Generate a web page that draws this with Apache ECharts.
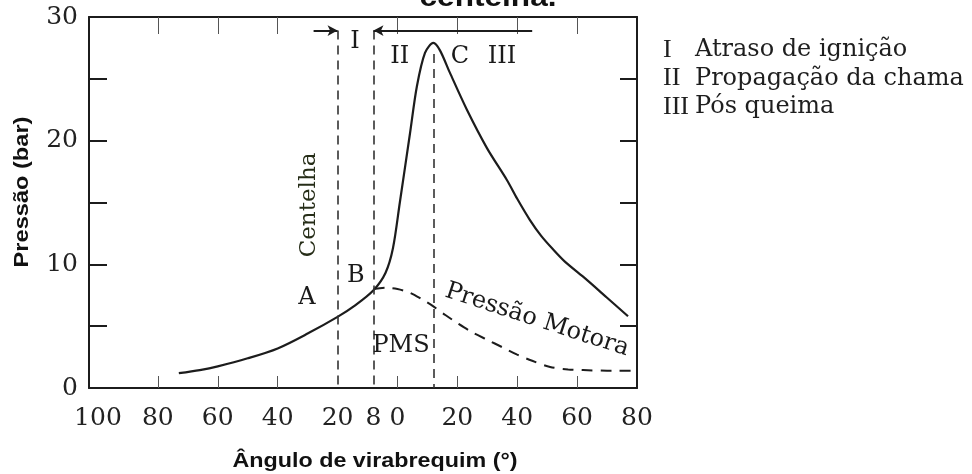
<!DOCTYPE html>
<html>
<head>
<meta charset="utf-8">
<script src="https://cdn.jsdelivr.net/npm/echarts@6/dist/echarts.min.js"></script>
<style>
html,body{margin:0;padding:0;background:#fff;}
#chart{width:972px;height:474px;}
</style>
</head>
<body>
<div id="chart"></div>
<script>
// ---- data ----
const firingAngle    = [-73, -66, -60, -50, -40, -30, -20, -14, -8, -4, -1.5, 0.8, 4.2, 6.5, 9.2, 12, 14.2, 17.5, 23.2, 29.9, 36.6, 40, 44.2, 48, 52, 56, 62, 70, 77];
const firingPressure = [1.2, 1.45, 1.75, 2.4, 3.2, 4.4, 5.75, 6.7, 7.9, 9.3, 11.3, 15.0, 20.6, 24.4, 27.1, 27.9, 27.3, 25.5, 22.5, 19.4, 16.8, 15.3, 13.6, 12.3, 11.2, 10.2, 9.0, 7.3, 5.8];

const motorAngle     = [-8, -4, 0, 4.2, 8, 12, 16, 20, 25, 30, 35, 40, 45, 51, 57, 62, 70, 80];
const motorPressure  = [8.0, 8.1, 8.0, 7.7, 7.2, 6.6, 5.9, 5.25, 4.5, 3.9, 3.3, 2.7, 2.2, 1.7, 1.5, 1.45, 1.4, 1.4];

const eventAngles    = [-20, -8, 12];      // centelha, B, C (dashed verticals)
const eventTop       = [28.9, 28.9, 27];
const phaseLineLevel = 28.9;

const xLabelValues   = [-100, -80, -60, -40, -20, -8, 0, 20, 40, 60, 80];
const xTickValues    = [-80, -60, -40, 0, 20, 40, 60];
const yLabelValues   = [0, 10, 20, 30];

const annText  = ['A', 'B', 'PMS', 'I', 'II', 'C', 'III', 'Centelha', 'Pressão Motora'];
const annX     = [-30.2, -13.9, 1.2, -14.2, 0.8, 20.9, 34.9, -29.5, 46.6];
const annY     = [7.3, 9.05, 3.4, 28.0, 26.8, 26.8, 26.8, 14.8, 5.5];
const annRot   = [0, 0, 0, 0, 0, 0, 0, 90, -18];

const legendNumerals = ['I', 'II', 'III'];
const legendTexts    = ['Atraso de ignição', 'Propagação da chama', 'Pós queima'];

// ---- chart ----
const serif = 'DejaVu Serif';
const ink = '#1c1c1c';
const chart = echarts.init(document.getElementById('chart'));

const pairs = (xs, ys) => xs.map((x, i) => [x, ys[i]]);

const verticals = eventAngles.map((a, i) => [{coord: [a, eventTop[i]]}, {coord: [a, 0]}]);

const legendGraphics = [];
legendTexts.forEach((t, i) => {
  legendGraphics.push({type: 'text', left: 663, top: 37 + i * 28.5,
    style: {text: legendNumerals[i], font: '26px "Liberation Serif"', fill: '#1e1e1e'}});
  legendGraphics.push({type: 'text', left: 695, top: 38 + i * 28.5,
    style: {text: t, font: '24px "' + serif + '"', fill: '#1e1e1e'}});
});

chart.setOption({
  animation: false,
  backgroundColor: '#fff',
  grid: {left: 89, right: 335, top: 17, bottom: 86, containLabel: false},
  xAxis: [{
    type: 'value', min: -103, max: 80, position: 'bottom',
    axisLine: {show: true, onZero: false, lineStyle: {color: ink, width: 2}},
    axisTick: {show: true, inside: true, length: 12, customValues: xTickValues, lineStyle: {color: '#555', width: 1}},
    axisLabel: {customValues: xLabelValues, formatter: v => String(Math.abs(v)),
      fontFamily: serif, fontSize: 25, color: '#222', margin: 18},
    splitLine: {show: false}
  }, {
    type: 'value', min: -103, max: 80, position: 'top',
    axisLine: {show: true, onZero: false, lineStyle: {color: ink, width: 2}},
    axisTick: {show: true, inside: true, length: 17, customValues: xTickValues, lineStyle: {color: '#555', width: 1}},
    axisLabel: {show: false}, splitLine: {show: false}
  }],
  yAxis: [{
    type: 'value', min: 0, max: 30, interval: 5, position: 'left',
    axisLine: {show: true, onZero: false, lineStyle: {color: ink, width: 2}},
    axisTick: {show: true, inside: true, length: 18, lineStyle: {color: ink, width: 2}},
    axisLabel: {customValues: yLabelValues, fontFamily: serif, fontSize: 25, color: '#222', margin: 11},
    splitLine: {show: false}
  }, {
    type: 'value', min: 0, max: 30, interval: 5, position: 'right',
    axisLine: {show: true, onZero: false, lineStyle: {color: ink, width: 2}},
    axisTick: {show: true, inside: true, length: 17, lineStyle: {color: ink, width: 2}},
    axisLabel: {show: false}, splitLine: {show: false}
  }],
  series: [{
    name: 'Pressão de combustão', type: 'line', data: pairs(firingAngle, firingPressure),
    smooth: 0.3, showSymbol: false, silent: true,
    lineStyle: {color: ink, width: 2.2},
    markLine: {
      silent: true, symbol: ['none', 'none'], label: {show: false},
      lineStyle: {color: '#333', width: 1.6, type: [9, 6]},
      data: verticals
    }
  }, {
    name: 'Pressão Motora', type: 'line', data: pairs(motorAngle, motorPressure),
    smooth: 0.3, showSymbol: false, silent: true,
    lineStyle: {color: ink, width: 2, type: [11, 8]},
    markLine: {
      silent: true, symbol: ['none', 'arrow'], symbolSize: [8, 10], label: {show: false},
      lineStyle: {color: ink, width: 2, type: 'solid'},
      data: [
        [{coord: [-28, phaseLineLevel]}, {coord: [-20, phaseLineLevel]}],
        [{coord: [45, phaseLineLevel]}, {coord: [-8, phaseLineLevel]}]
      ]
    }
  }, {
    name: 'anotações', type: 'scatter', symbolSize: 0, silent: true, z: 5,
    itemStyle: {opacity: 1},
    data: annText.map((t, i) => ({value: [annX[i], annY[i]],
      label: {show: true, formatter: t, rotate: annRot[i], position: 'inside', opacity: 1,
        fontFamily: serif, fontSize: i === 7 ? 23 : 24,
        color: i === 7 ? '#262d18' : '#1a1a1a'}}))
  }],
  graphic: [
    {type: 'text', x: 488, y: -1, scaleX: 1.17,
      style: {text: 'centelha.', font: 'bold 27px "Liberation Sans"', fill: '#111', align: 'center', verticalAlign: 'middle'}},
    {type: 'text', x: 375, y: 461, scaleX: 1.165,
      style: {text: 'Ângulo de virabrequim (°)', font: 'bold 20px "Liberation Sans"', fill: '#111', align: 'center', verticalAlign: 'middle'}},
    {type: 'text', x: 22, y: 192, rotation: Math.PI / 2, scaleX: 1.18,
      style: {text: 'Pressão (bar)', font: 'bold 20px "Liberation Sans"', fill: '#111', align: 'center', verticalAlign: 'middle'}}
  ].concat(legendGraphics)
});
</script>
</body>
</html>
